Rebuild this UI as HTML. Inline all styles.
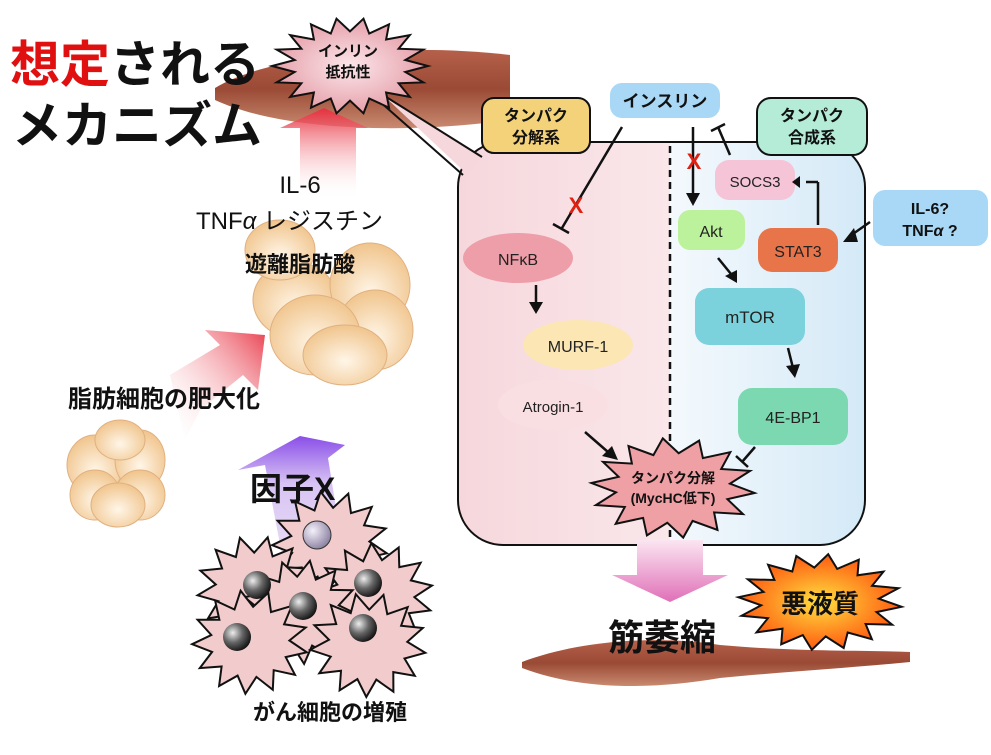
<!DOCTYPE html>
<html><head><meta charset="utf-8">
<style>
html,body{margin:0;padding:0;background:#fff;}
svg{display:block;}
text{font-family:"Liberation Sans","Noto Sans CJK JP",sans-serif;}
.b{font-weight:bold;}
</style></head>
<body>
<svg id="s" width="991" height="755" viewBox="0 0 991 755" xmlns="http://www.w3.org/2000/svg">
<defs>
 <linearGradient id="mus" x1="0" y1="0" x2="0" y2="1">
  <stop offset="0" stop-color="#b5604a"/><stop offset="0.5" stop-color="#9a4a35"/><stop offset="1" stop-color="#c98a70"/>
 </linearGradient>
 <linearGradient id="upR" x1="0" y1="0" x2="0" y2="1">
  <stop offset="0" stop-color="#e83040"/><stop offset="1" stop-color="#ffffff" stop-opacity="0"/>
 </linearGradient>
 <linearGradient id="pinkL" x1="0" y1="0" x2="1" y2="0">
  <stop offset="0" stop-color="#f6d7dc"/><stop offset="1" stop-color="#fdf6f7"/>
 </linearGradient>
 <linearGradient id="blueR" x1="0" y1="0" x2="1" y2="0">
  <stop offset="0" stop-color="#f4f9fd"/><stop offset="1" stop-color="#d4e9f7"/>
 </linearGradient>
 <linearGradient id="downP" x1="0" y1="0" x2="0" y2="1">
  <stop offset="0" stop-color="#fbe6f2"/><stop offset="1" stop-color="#e070b8"/>
 </linearGradient>
 <linearGradient id="purp" x1="0" y1="1" x2="0" y2="0">
  <stop offset="0" stop-color="#e8dcf4"/><stop offset="0.6" stop-color="#d8c4f4"/><stop offset="1" stop-color="#8a4ee8"/>
 </linearGradient>
 <linearGradient id="diag" x1="0" y1="1" x2="1" y2="0">
  <stop offset="0" stop-color="#fff" stop-opacity="0"/><stop offset="1" stop-color="#e83848"/>
 </linearGradient>
 <radialGradient id="fat" cx="0.5" cy="0.6" r="0.6">
  <stop offset="0" stop-color="#fff6e8"/><stop offset="1" stop-color="#f0c48c"/>
 </radialGradient>
 <radialGradient id="nuc" cx="0.35" cy="0.35" r="0.7">
  <stop offset="0" stop-color="#eee"/><stop offset="0.5" stop-color="#666"/><stop offset="1" stop-color="#111"/>
 </radialGradient>
 <radialGradient id="nuc2" cx="0.35" cy="0.35" r="0.7">
  <stop offset="0" stop-color="#f4f0fa"/><stop offset="1" stop-color="#8a80a0"/>
 </radialGradient>
 <radialGradient id="starO" cx="0.5" cy="0.5" r="0.5">
  <stop offset="0" stop-color="#ffe040"/><stop offset="1" stop-color="#ff5a10"/>
 </radialGradient>
 <radialGradient id="starP" cx="0.5" cy="0.5" r="0.5">
  <stop offset="0" stop-color="#fbe6ea"/><stop offset="1" stop-color="#e6a0aa"/>
 </radialGradient>
</defs>

<path d="M215,88 C260,60 380,40 510,55 L510,120 C400,135 280,130 215,100 Z" fill="url(#mus)"/>
<polygon points="280,128 324,108 368,128 356,128 356,200 300,200 300,128" fill="url(#upR)"/>

<rect x="458" y="142" width="407" height="403" rx="45" fill="url(#pinkL)"/>
<path d="M670,142 H820 A45,45 0 0 1 865,187 V500 A45,45 0 0 1 820,545 H670 Z" fill="url(#blueR)"/>
<rect x="458" y="142" width="407" height="403" rx="45" fill="none" stroke="#111" stroke-width="2"/>
<polygon points="383,95 482,157 468,175" fill="#f6d7dc"/>
<path d="M383,95 L482,157 M378,100 L463,175" stroke="#111" stroke-width="2" fill="none"/>
<line x1="670" y1="146" x2="670" y2="543" stroke="#111" stroke-width="2.5" stroke-dasharray="7,5"/>

<text x="10" y="82" font-size="50" class="b" fill="#e01010">想定<tspan fill="#111">される</tspan></text>
<text x="12" y="143" font-size="50" class="b" fill="#111">メカニズム</text>

<g id="stars"></g>

<text x="348" y="56" font-size="15" class="b" text-anchor="middle" fill="#111">インリン</text>
<text x="348" y="77" font-size="15" class="b" text-anchor="middle" fill="#111">抵抗性</text>

<g fill="url(#fat)" stroke="#e0b080" stroke-width="1">
 <ellipse cx="295" cy="300" rx="42" ry="38"/>
 <ellipse cx="370" cy="285" rx="40" ry="42"/>
 <ellipse cx="280" cy="250" rx="35" ry="30"/>
 <ellipse cx="375" cy="330" rx="38" ry="40"/>
 <ellipse cx="315" cy="335" rx="45" ry="40"/>
 <ellipse cx="345" cy="355" rx="42" ry="30"/>
</g>
<text x="300" y="193" font-size="24" text-anchor="middle" fill="#111">IL-6</text>
<text x="196" y="229" font-size="24" fill="#111">TNF<tspan font-style="italic">α</tspan>  レジスチン</text>
<text x="300" y="272" font-size="22" class="b" text-anchor="middle" fill="#111">遊離脂肪酸</text>

<polygon points="185,440 170,375 220,345 205,330 265,335 258,390 243,375 200,410" fill="url(#diag)" opacity="0.95"/>
<text x="68" y="407" font-size="24" class="b" fill="#111">脂肪細胞の肥大化</text>

<g fill="url(#fat)" stroke="#e0b080" stroke-width="1">
 <ellipse cx="95" cy="465" rx="28" ry="30"/>
 <ellipse cx="140" cy="460" rx="25" ry="30"/>
 <ellipse cx="120" cy="440" rx="25" ry="20"/>
 <ellipse cx="95" cy="495" rx="25" ry="25"/>
 <ellipse cx="140" cy="495" rx="25" ry="25"/>
 <ellipse cx="118" cy="505" rx="27" ry="22"/>
</g>

<polygon points="238,470 300,436 345,445 328,458 342,545 282,555 265,465" fill="url(#purp)"/>
<text x="250" y="500" font-size="32" class="b" fill="#111">因子X</text>

<g id="cells"></g>
<g>
 <circle cx="317" cy="535" r="14" fill="url(#nuc2)" stroke="#333"/>
 <circle cx="257" cy="585" r="14" fill="url(#nuc)"/>
 <circle cx="303" cy="606" r="14" fill="url(#nuc)"/>
 <circle cx="368" cy="583" r="14" fill="url(#nuc)"/>
 <circle cx="237" cy="637" r="14" fill="url(#nuc)"/>
 <circle cx="363" cy="628" r="14" fill="url(#nuc)"/>
</g>
<text x="330" y="720" font-size="22" class="b" text-anchor="middle" fill="#111">がん細胞の増殖</text>

<rect x="482" y="98" width="108" height="55" rx="12" fill="#f4d27a" stroke="#111" stroke-width="2"/>
<text x="536" y="121" font-size="16" class="b" text-anchor="middle" fill="#111">タンパク</text>
<text x="536" y="143" font-size="16" class="b" text-anchor="middle" fill="#111">分解系</text>
<rect x="757" y="98" width="110" height="57" rx="14" fill="#b4ecd8" stroke="#111" stroke-width="2"/>
<text x="812" y="121" font-size="16" class="b" text-anchor="middle" fill="#111">タンパク</text>
<text x="812" y="143" font-size="16" class="b" text-anchor="middle" fill="#111">合成系</text>
<rect x="610" y="83" width="110" height="35" rx="12" fill="#a8d8f6"/>
<text x="665" y="107" font-size="17" class="b" text-anchor="middle" fill="#111">インスリン</text>
<rect x="873" y="190" width="115" height="56" rx="12" fill="#a8d8f6"/>
<text x="930" y="214" font-size="16" class="b" text-anchor="middle" fill="#111">IL-6?</text>
<text x="930" y="236" font-size="16" class="b" text-anchor="middle" fill="#111">TNF<tspan font-style="italic">α</tspan> ?</text>

<ellipse cx="518" cy="258" rx="55" ry="25" fill="#ee9ea8"/>
<text x="518" y="265" font-size="16" text-anchor="middle" fill="#222">NFκB</text>
<ellipse cx="578" cy="345" rx="55" ry="25" fill="#fbe6b4"/>
<text x="578" y="352" font-size="16" text-anchor="middle" fill="#222">MURF-1</text>
<ellipse cx="553" cy="405" rx="55" ry="25" fill="#fadfe2"/>
<text x="553" y="412" font-size="15" text-anchor="middle" fill="#222">Atrogin-1</text>
<rect x="715" y="160" width="80" height="40" rx="14" fill="#f5c4d6"/>
<text x="755" y="187" font-size="15" text-anchor="middle" fill="#222">SOCS3</text>
<rect x="678" y="210" width="67" height="40" rx="12" fill="#bdf29c"/>
<text x="711" y="237" font-size="16" text-anchor="middle" fill="#222">Akt</text>
<rect x="758" y="228" width="80" height="44" rx="14" fill="#e8744a"/>
<text x="798" y="257" font-size="16" text-anchor="middle" fill="#222">STAT3</text>
<rect x="695" y="288" width="110" height="57" rx="14" fill="#7cd2dc"/>
<text x="750" y="323" font-size="17" text-anchor="middle" fill="#222">mTOR</text>
<rect x="738" y="388" width="110" height="57" rx="14" fill="#7cd8b0"/>
<text x="793" y="423" font-size="16" text-anchor="middle" fill="#222">4E-BP1</text>

<g stroke="#111" stroke-width="2.5" fill="none">
 <line x1="622" y1="127" x2="562" y2="228"/><line x1="553" y1="224" x2="569" y2="233"/>
 <line x1="693" y1="127" x2="693" y2="195"/>
 <line x1="730" y1="155" x2="718" y2="127"/><line x1="711" y1="131" x2="725" y2="124"/>
 <line x1="818" y1="225" x2="818" y2="182"/><line x1="818" y1="182" x2="806" y2="182"/>
 <line x1="870" y1="222" x2="850" y2="236"/>
 <line x1="536" y1="285" x2="536" y2="304"/>
 <line x1="718" y1="258" x2="731" y2="274"/>
 <line x1="788" y1="348" x2="793" y2="368"/>
 <line x1="585" y1="432" x2="608" y2="452"/>
 <line x1="755" y1="447" x2="742" y2="462"/><line x1="736" y1="456" x2="748" y2="467"/>
</g>
<g fill="#111">
 <polygon points="686,193 700,193 693,206"/>
 <polygon points="800,176 800,188 792,182"/>
 <polygon points="854,228 858,242 843,242"/>
 <polygon points="529,302 543,302 536,314"/>
 <polygon points="725,276 737,270 737,283"/>
 <polygon points="786,366 800,364 795,378"/>
 <polygon points="602,456 612,446 618,460"/>
</g>
<text x="576" y="213" font-size="22" class="b" text-anchor="middle" fill="#e02010">X</text>
<text x="694" y="169" font-size="22" class="b" text-anchor="middle" fill="#e02010">X</text>

<text x="673" y="483" font-size="14" class="b" text-anchor="middle" fill="#111">タンパク分解</text>
<text x="673" y="503" font-size="14" class="b" text-anchor="middle" fill="#111">(MycHC低下)</text>

<polygon points="637,540 703,540 703,575 728,575 670,602 612,575 637,575" fill="url(#downP)"/>

<path d="M522,662 C580,640 660,635 720,645 C800,652 860,650 910,652 L910,662 C850,668 780,672 720,678 C650,690 580,690 522,668 Z" fill="url(#mus)"/>
<text x="662" y="650" font-size="36" class="b" text-anchor="middle" fill="#111">筋萎縮</text>
<text x="820" y="613" font-size="26" class="b" text-anchor="middle" fill="#111">悪液質</text>
</svg>
<script>
function star(cx,cy,rx,ry,ir,n,fill,rot){
 var p=[];for(var i=0;i<2*n;i++){var a=Math.PI*i/n+(rot||0);var f=i%2?ir:1;p.push((cx+rx*f*Math.cos(a)).toFixed(1)+","+(cy+ry*f*Math.sin(a)).toFixed(1));}
 var e=document.createElementNS("http://www.w3.org/2000/svg","polygon");
 e.setAttribute("points",p.join(" "));e.setAttribute("fill",fill);e.setAttribute("stroke","#111");e.setAttribute("stroke-width","2");return e;}
var s=document.getElementById("stars");
s.appendChild(star(350,66,78,48,0.72,18,"url(#starP)"));
var svg=document.getElementById("s");
var t=svg.querySelectorAll("text");
var tp=star(673,488,82,50,0.7,14,"#eea0a4",0.1);
svg.insertBefore(tp,Array.from(t).find(function(x){return x.textContent=="タンパク分解";}));
var ak=star(820,602,82,48,0.72,16,"url(#starO)",0.1);
svg.insertBefore(ak,Array.from(t).find(function(x){return x.textContent=="悪液質";}));
var c=document.getElementById("cells");
[[330,543,0.2],[255,588,0.1],[375,595,0.3],[300,612,0.05],[250,642,0.2],[368,645,0.15]].forEach(function(d){c.appendChild(star(d[0],d[1],58,52,0.68,13,"#f2cccc",d[2]));});
</script>
</body></html>
